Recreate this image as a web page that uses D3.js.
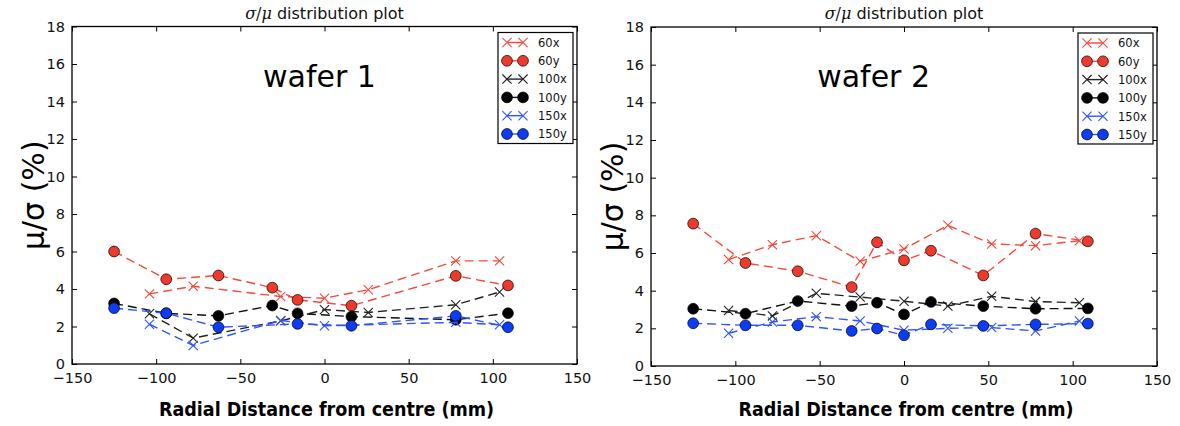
<!DOCTYPE html>
<html>
<head>
<meta charset="utf-8">
<script src="https://cdn.jsdelivr.net/npm/d3@7/dist/d3.min.js"></script>
<style>
  html, body { margin: 0; padding: 0; background: #fff; }
  svg { display: block; }
</style>
</head>
<body>
<svg id="chart" width="1180" height="426"></svg>
<script>
// Radial positions (mm) of the x-scan and y-scan measurement sites
const posX = [-104, -78, -52, -26, 0, 26, 52, 78, 104];
const posY = [-125, -94, -63, -31, -16, 0, 16, 47, 78, 109];

// Series names, in plotting / legend order
const seriesNames = ["60x", "60y", "100x", "100y", "150x", "150y"];

// Wafer 1: mu/sigma (%) per site (null = no measurement)
const w1_60x  = [3.74, 4.15, null, 3.60, 3.51, 3.96, null, 5.50, 5.50];
const w1_60y  = [6.00, 4.52, 4.72, 4.07, 3.42, null, 3.11, null, 4.70, 4.19];
const w1_100x = [2.68, 1.38, null, 2.30, 2.90, 2.75, null, 3.16, 3.84];
const w1_100y = [3.23, 2.70, 2.57, 3.12, 2.70, null, 2.53, null, 2.36, 2.71];
const w1_150x = [2.12, 0.99, null, 2.32, 2.04, null, null, 2.22, 2.09];
const w1_150y = [2.98, 2.71, 1.96, null, 2.14, null, 2.04, null, 2.57, 1.96];

// Wafer 2
const w2_60x  = [5.65, 6.44, 6.92, 5.56, 6.21, 7.47, 6.48, 6.39, 6.65];
const w2_60y  = [7.56, 5.47, 5.03, 4.19, 6.57, 5.61, 6.12, 4.81, 7.03, 6.62];
const w2_100x = [2.95, 2.66, 3.86, 3.66, 3.44, 3.18, 3.70, 3.42, 3.36];
const w2_100y = [3.04, 2.78, 3.45, 3.18, 3.36, 2.74, 3.40, 3.18, 3.04, 3.06];
const w2_150x = [1.74, 2.34, 2.62, 2.39, 1.90, 2.00, 2.04, 1.86, 2.39];
const w2_150y = [2.27, 2.16, 2.16, 1.86, 1.99, 1.63, 2.21, 2.13, 2.21, 2.25];

// Axis ticks
const xTicks = [-150, -100, -50, 0, 50, 100, 150];
const yTicks = [0, 2, 4, 6, 8, 10, 12, 14, 16, 18];

const wafers = [
  { label: "wafer 1", values: [w1_60x, w1_60y, w1_100x, w1_100y, w1_150x, w1_150y] },
  { label: "wafer 2", values: [w2_60x, w2_60y, w2_100x, w2_100y, w2_150x, w2_150y] }
];

// Layout of the two panels (labelAt: horizontal centre of the wafer label, in mm)
const panels = [
  { left: 72,  right: 577,  top: 26.5, bottom: 364, labelAt: -3 },
  { left: 651, right: 1157, top: 27,   bottom: 366, labelAt: -18 }
];

// Marker / line styling per series
const RED = "#ee3a2c", RED_LIGHT = "#f4493c";
const BLUE = "#0d3cf6", BLUE_LIGHT = "#2f55ff";
const styles = {
  "60x":  { color: RED_LIGHT,  marker: "x" },
  "60y":  { color: RED_LIGHT,  fill: RED,  marker: "o" },
  "100x": { color: "#222",     marker: "x" },
  "100y": { color: "#111",     fill: "#000", marker: "o" },
  "150x": { color: BLUE_LIGHT, marker: "x" },
  "150y": { color: BLUE_LIGHT, fill: BLUE, marker: "o" }
};

const svg = d3.select("#chart");
const SANS = "'DejaVu Sans', sans-serif";

function drawMarker(g, kind, cx, cy, st) {
  if (kind === "o") {
    g.append("circle").attr("cx", cx).attr("cy", cy).attr("r", 5.4)
      .attr("fill", st.fill).attr("stroke", "#000").attr("stroke-width", 0.7);
  } else {
    const h = 4.6;
    g.append("path")
      .attr("d", `M${cx - h},${cy - h}L${cx + h},${cy + h}M${cx - h},${cy + h}L${cx + h},${cy - h}`)
      .attr("stroke", st.color).attr("stroke-width", 1.1).attr("fill", "none");
  }
}

wafers.forEach((w, wi) => {
  const p = panels[wi];
  const x = d3.scaleLinear().domain([-150, 150]).range([p.left, p.right]);
  const y = d3.scaleLinear().domain([0, 18]).range([p.bottom, p.top]);
  const g = svg.append("g");

  // Ticks on all four sides, pointing inward
  const fmt = d3.format("d");
  g.append("g").attr("transform", `translate(0,${p.bottom})`)
    .call(d3.axisBottom(x).tickValues(xTicks).tickFormat(d => fmt(d)).tickSizeInner(-5).tickSizeOuter(0).tickPadding(9));
  g.append("g").attr("transform", `translate(0,${p.top})`)
    .call(d3.axisTop(x).tickValues(xTicks).tickFormat("").tickSizeInner(-5).tickSizeOuter(0));
  g.append("g").attr("transform", `translate(${p.left},0)`)
    .call(d3.axisLeft(y).tickValues(yTicks).tickFormat(d => fmt(d)).tickSizeInner(-5).tickSizeOuter(0).tickPadding(7));
  g.append("g").attr("transform", `translate(${p.right},0)`)
    .call(d3.axisRight(y).tickValues(yTicks).tickFormat("").tickSizeInner(-5).tickSizeOuter(0));
  g.selectAll(".tick line").attr("stroke", "#000").attr("stroke-width", 1);
  g.selectAll(".domain").attr("stroke", "none");
  g.selectAll(".tick text").attr("font-family", SANS).attr("font-size", 14.5).attr("fill", "#111");

  // Frame
  g.append("rect").attr("x", p.left).attr("y", p.top)
    .attr("width", p.right - p.left).attr("height", p.bottom - p.top)
    .attr("fill", "none").attr("stroke", "#000").attr("stroke-width", 1.3);

  // Series: dashed line then markers
  const line = d3.line().x(d => x(d[0])).y(d => y(d[1]));
  seriesNames.forEach((name, si) => {
    const st = styles[name];
    const positions = name.endsWith("x") ? posX : posY;
    const pts = positions.map((r, i) => [r, w.values[si][i]]).filter(d => d[1] != null);
    const sg = g.append("g");
    sg.append("path").attr("d", line(pts)).attr("fill", "none")
      .attr("stroke", st.color).attr("stroke-width", 1.4).attr("stroke-dasharray", "9,5");
    pts.forEach(d => drawMarker(sg, st.marker, x(d[0]), y(d[1]), st));
  });

  // Panel annotation
  g.append("text").attr("x", x(p.labelAt)).attr("y", 87).attr("text-anchor", "middle")
    .attr("font-family", SANS).attr("font-size", 30).attr("fill", "#000").text(w.label);

  // Title
  const t = g.append("text").attr("x", (p.left + p.right) / 2).attr("y", p.top - 8)
    .attr("text-anchor", "middle").attr("font-size", 16).attr("fill", "#111");
  t.append("tspan").attr("font-family", "'DejaVu Serif', serif").attr("font-style", "italic").text("σ");
  t.append("tspan").attr("font-family", "'DejaVu Serif', serif").text("/");
  t.append("tspan").attr("font-family", "'DejaVu Serif', serif").attr("font-style", "italic").text("μ");
  t.append("tspan").attr("font-family", SANS).text(" distribution plot");

  // Axis labels
  g.append("text").attr("x", (p.left + p.right) / 2 + 2).attr("y", 416).attr("text-anchor", "middle")
    .attr("font-family", "'DejaVu Sans Condensed', 'DejaVu Sans', sans-serif").attr("font-weight", "bold")
    .attr("font-size", 19.5).attr("fill", "#000").text("Radial Distance from centre (mm)");
  g.append("text").attr("transform", `translate(${p.left - 28},${(p.top + p.bottom) / 2}) rotate(-90)`)
    .attr("text-anchor", "middle").attr("font-family", SANS).attr("font-size", 30).attr("fill", "#000")
    .text("μ/σ (%)");

  // Legend
  const lx = p.right - 79, ly = p.top + 6, rowH = 18.3;
  const lg = g.append("g");
  lg.append("rect").attr("x", lx).attr("y", ly).attr("width", 75).attr("height", 111)
    .attr("fill", "#fff").attr("stroke", "#000").attr("stroke-width", 1.2);
  seriesNames.forEach((name, i) => {
    const st = styles[name];
    const cy = ly + 10 + i * rowH;
    lg.append("line").attr("x1", lx + 9).attr("x2", lx + 25).attr("y1", cy).attr("y2", cy)
      .attr("stroke", st.color).attr("stroke-width", 1.4);
    drawMarker(lg, st.marker, lx + 9, cy, st);
    drawMarker(lg, st.marker, lx + 25, cy, st);
    lg.append("text").attr("x", lx + 40).attr("y", cy + 4.3).attr("font-family", SANS)
      .attr("font-size", 11.5).attr("fill", "#111").text(name);
  });
});
</script>
</body>
</html>
